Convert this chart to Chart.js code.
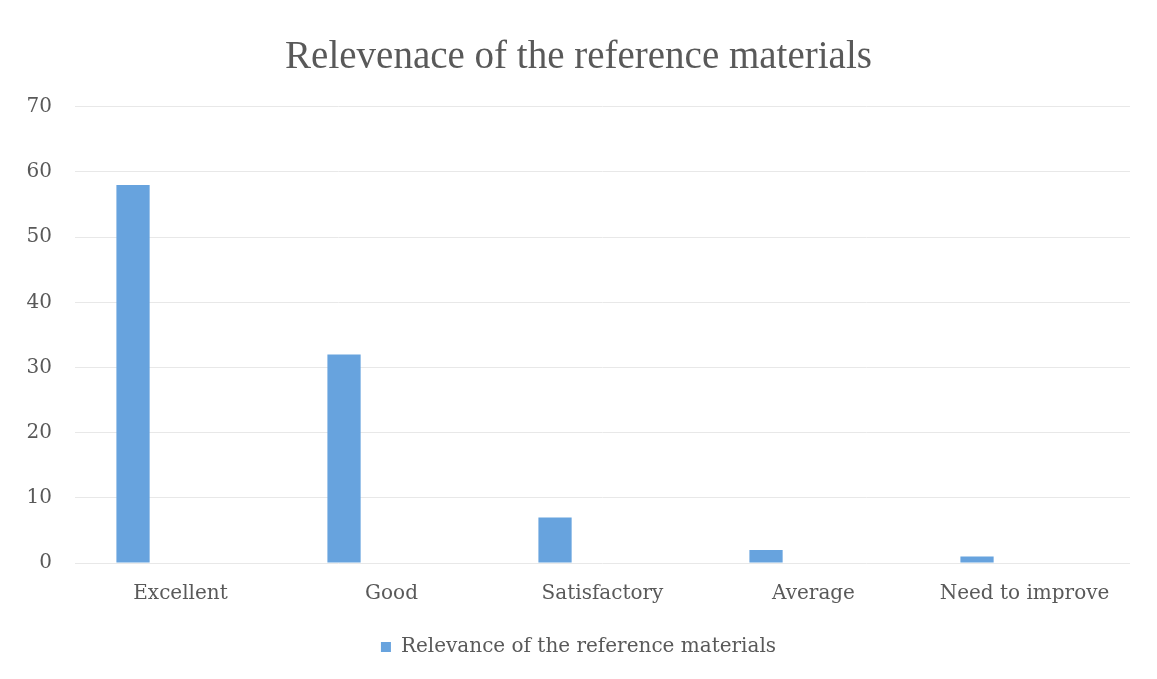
<!DOCTYPE html>
<html>
<head>
    <title>Relevenace of the reference materials</title>
    <script src="https://cdn.jsdelivr.net/npm/chart.js"></script>
    <style>
        body { margin: 0; background: #fff; }
        #wrap { width: 1157px; height: 679px; }
    </style>
</head>
<body>
    <div id="wrap">
        <canvas id="relChart" width="1157" height="679"></canvas>
    </div>

    <script>
        // chart data
        var categories = ["Excellent", "Good", "Satisfactory", "Average", "Need to improve"];
        var relevance = [58, 32, 7, 2, 1];
        // second (empty) series kept by the original chart, it pushes bars to the left
        var emptySeries = [null, null, null, null, null];
        var seriesName = "Relevance of the reference materials";
        var chartTitle = "Relevenace of the reference materials";

        var titleFont = "'Liberation Serif', 'DejaVu Serif', serif";
        var labelFont = "'DejaVu Serif', 'Liberation Serif', serif";
        var grey = "#595959";

        var chart = new Chart(document.getElementById("relChart"), {
            type: "bar",
            data: {
                labels: categories,
                datasets: [
                    {
                        label: seriesName,
                        data: relevance,
                        backgroundColor: "#67a3de",
                        categoryPercentage: 0.9,
                        barPercentage: 0.35
                    },
                    {
                        label: "",
                        data: emptySeries,
                        backgroundColor: "rgba(0,0,0,0)",
                        categoryPercentage: 0.9,
                        barPercentage: 0.35
                    }
                ]
            },
            options: {
                responsive: false,
                animation: false,
                layout: { padding: { left: 27, right: 27, top: 34, bottom: 12 } },
                plugins: {
                    title: {
                        display: true,
                        text: chartTitle,
                        color: grey,
                        font: { family: titleFont, size: 39, weight: "normal" },
                        padding: { top: 0, bottom: 26 }
                    },
                    legend: {
                        position: "bottom",
                        labels: {
                            color: grey,
                            font: { family: labelFont, size: 20 },
                            boxWidth: 10,
                            boxHeight: 10,
                            padding: 12,
                            filter: function (item) { return item.text !== ""; }
                        }
                    },
                    tooltip: { enabled: false }
                },
                scales: {
                    x: {
                        grid: { display: false, drawTicks: false },
                        border: { display: false },
                        ticks: {
                            color: grey,
                            font: { family: labelFont, size: 20 },
                            padding: 19
                        }
                    },
                    y: {
                        min: 0,
                        max: 70,
                        // fixed axis width so the labels sit where the original has them
                        afterFit: function (scale) { scale.width = 48; },
                        ticks: {
                            stepSize: 10,
                            color: grey,
                            font: { family: labelFont, size: 20 },
                            padding: 23
                        },
                        grid: { color: "#e8e8e8", lineWidth: 1, drawTicks: false },
                        border: { display: false }
                    }
                }
            }
        });
    </script>
</body>
</html>
